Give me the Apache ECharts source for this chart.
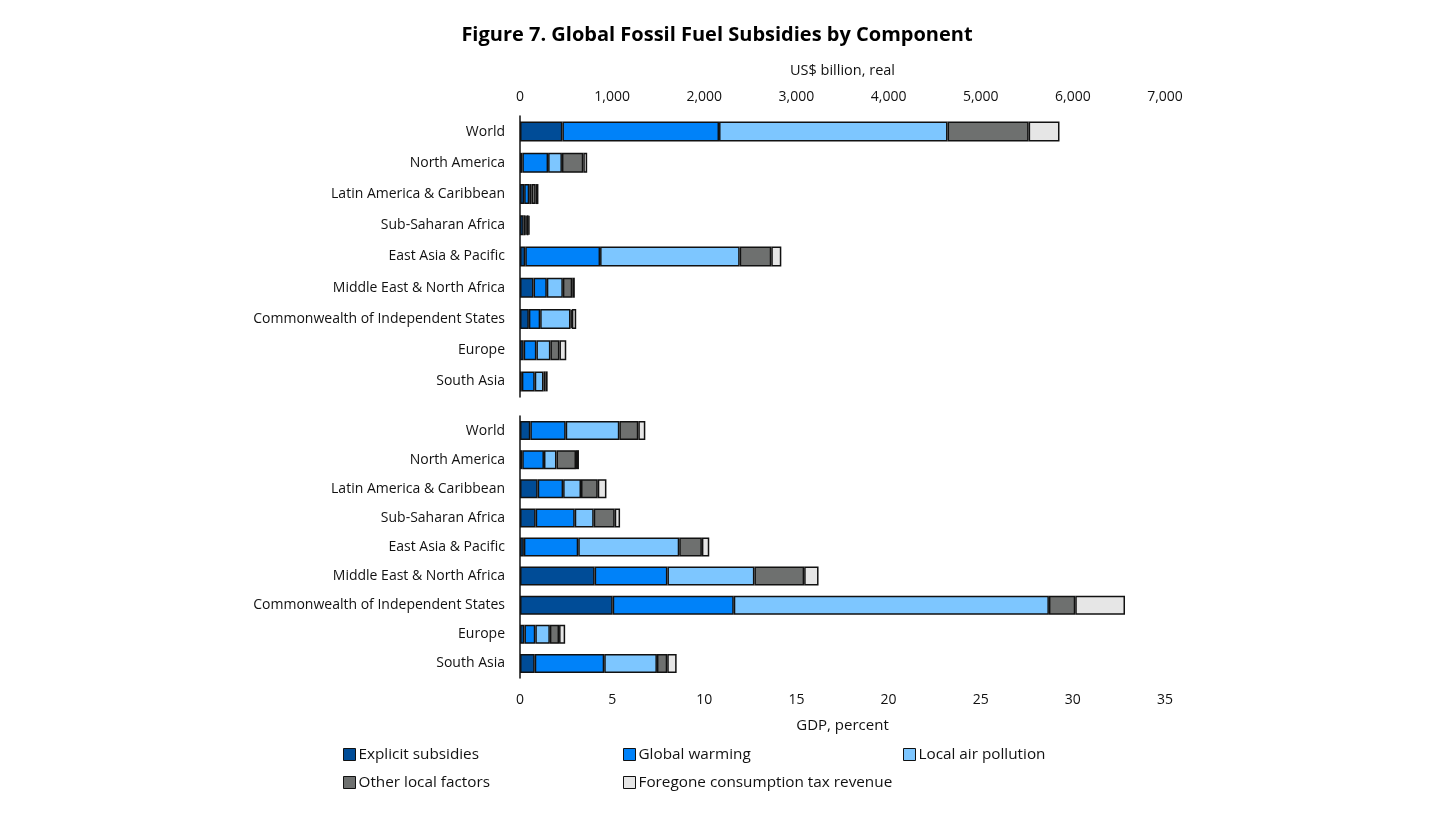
<!DOCTYPE html>
<html>
<head>
<meta charset="utf-8">
<script src="https://cdn.jsdelivr.net/npm/echarts@6/dist/echarts.min.js"></script>
<style>
html,body{margin:0;padding:0;background:#fff;}
#chart{width:1456px;height:819px;}
</style>
</head>
<body>
<div id="chart"></div>
<script>
const regions = ["World","North America","Latin America & Caribbean","Sub-Saharan Africa","East Asia & Pacific","Middle East & North Africa","Commonwealth of Independent States","Europe","South Asia"];
const componentNames = ["Explicit subsidies","Global warming","Local air pollution","Other local factors","Foregone consumption tax revenue"];

// US$ billion, real
const usdExplicit  = [460, 25, 45, 40, 57, 147, 96, 40, 20];
const usdWarming   = [1700, 280, 55, 20, 812, 144, 123, 138, 140];
const usdAir       = [2480, 150, 25, 12, 1515, 174, 329, 152, 95];
const usdOther     = [880, 232, 45, 20, 343, 102, 15, 98, 20];
const usdForegone  = [335, 42, 30, 10, 109, 28, 47, 74, 25];

// GDP, percent
const gdpExplicit  = [0.56, 0.12, 0.96, 0.85, 0.21, 4.05, 5.03, 0.24, 0.80];
const gdpWarming   = [1.92, 1.18, 1.38, 2.12, 2.95, 3.95, 6.57, 0.59, 3.77];
const gdpAir       = [2.91, 0.68, 0.97, 1.03, 5.48, 4.72, 17.10, 0.79, 2.86];
const gdpOther     = [1.03, 1.06, 0.91, 1.14, 1.23, 2.70, 1.43, 0.50, 0.56];
const gdpForegone  = [0.38, 0.16, 0.47, 0.29, 0.40, 0.78, 2.70, 0.33, 0.51];

const colors = ["#004c97", "#0082f9", "#7dc6ff", "#6e706f", "#e6e6e6"];
const FONT = "Open Sans";

const usdSeries = [usdExplicit, usdWarming, usdAir, usdOther, usdForegone];
const gdpSeries = [gdpExplicit, gdpWarming, gdpAir, gdpOther, gdpForegone];

const series = [];
componentNames.forEach((n, i) => {
  series.push({
    name: n, type: 'bar', stack: 'usd', xAxisIndex: 0, yAxisIndex: 0,
    data: usdSeries[i], barWidth: 20,
    itemStyle: {color: colors[i], borderColor: '#111', borderWidth: 1.5},
    emphasis: {disabled: true}
  });
});
componentNames.forEach((n, i) => {
  series.push({
    name: n, type: 'bar', stack: 'gdp', xAxisIndex: 1, yAxisIndex: 1,
    data: gdpSeries[i], barWidth: 19,
    itemStyle: {color: colors[i], borderColor: '#111', borderWidth: 1.5},
    emphasis: {disabled: true}
  });
});

const legendPos = [[343,747],[623,747],[903,747],[343,775],[623,775]];
const legends = componentNames.map((n, i) => ({
  data: [n], left: legendPos[i][0], top: legendPos[i][1],
  itemWidth: 12, itemHeight: 12, itemGap: 0, padding: 0,
  selectedMode: false,
  icon: 'rect',
  itemStyle: {borderColor: '#111', borderWidth: 1},
  textStyle: {fontFamily: FONT, fontSize: 15.3, color: '#111', padding: [0,0,0,-2]}
}));

const catAxis = (gi) => ({
  type: 'category', gridIndex: gi, data: regions, inverse: true,
  axisLine: {show: true, lineStyle: {color: '#111', width: 1.5}},
  axisTick: {show: false},
  axisLabel: {fontFamily: FONT, fontSize: 14, color: '#111', margin: 15}
});

const chart = echarts.init(document.getElementById('chart'));
chart.setOption({
  backgroundColor: '#fff',
  animation: false,
  title: {
    text: 'Figure 7. Global Fossil Fuel Subsidies by Component',
    left: 712, top: 20, textAlign: 'center',
    textStyle: {fontFamily: FONT, fontSize: 20, fontWeight: 'bold', color: '#000'}
  },
  legend: legends,
  grid: [
    {left: 520, width: 645, top: 116, height: 281},
    {left: 520, width: 645, top: 416, height: 262}
  ],
  xAxis: [
    {
      type: 'value', gridIndex: 0, position: 'top', min: 0, max: 7000, interval: 1000,
      name: 'US$ billion, real', nameLocation: 'middle', nameGap: 38,
      nameTextStyle: {fontFamily: FONT, fontSize: 14.5, color: '#111'},
      axisLine: {show: false}, axisTick: {show: false}, splitLine: {show: false},
      axisLabel: {fontFamily: FONT, fontSize: 14, color: '#111', margin: 12,
        formatter: v => v.toLocaleString('en-US')}
    },
    {
      type: 'value', gridIndex: 1, position: 'bottom', min: 0, max: 35, interval: 5,
      name: 'GDP, percent', nameLocation: 'middle', nameGap: 40,
      nameTextStyle: {fontFamily: FONT, fontSize: 15, color: '#111'},
      axisLine: {show: false}, axisTick: {show: false}, splitLine: {show: false},
      axisLabel: {fontFamily: FONT, fontSize: 14, color: '#111', margin: 15}
    }
  ],
  yAxis: [catAxis(0), catAxis(1)],
  series: series
});
</script>
</body>
</html>
